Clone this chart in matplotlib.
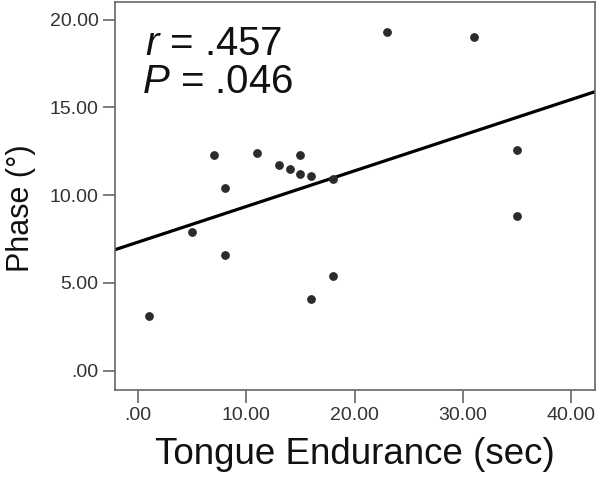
import matplotlib.pyplot as plt
import numpy as np

plt.rcParams['font.family'] = ['Liberation Sans', 'DejaVu Sans']
plt.rcParams['mathtext.fontset'] = 'custom'
plt.rcParams['mathtext.rm'] = 'Liberation Sans'
plt.rcParams['mathtext.it'] = 'Liberation Sans:italic'

# Data
endurance = [1, 5, 8, 7, 8, 11, 13, 14, 15, 15, 16, 18, 16, 18, 23, 31, 35, 35]
phase = [3.1, 7.9, 6.6, 12.3, 10.4, 12.4, 11.7, 11.5, 12.3, 11.2, 11.1, 10.9,
         4.1, 5.4, 19.3, 19.0, 12.6, 8.8]
x_ticks = [0, 10, 20, 30, 40]
x_tick_labels = ['.00', '10.00', '20.00', '30.00', '40.00']
y_ticks = [0, 5, 10, 15, 20]
y_tick_labels = ['.00', '5.00', '10.00', '15.00', '20.00']

fig = plt.figure(figsize=(6, 4.8), dpi=100)
ax = fig.add_axes([0.192, 0.1875, 0.8, 0.808])

ax.scatter(endurance, phase, s=28, color='#2b2b2b', zorder=3)

# least squares fit line
xlim = (-2.1, 42.2)
slope, intercept = np.polyfit(endurance, phase, 1)
xs = np.array(xlim)
ax.plot(xs, slope * xs + intercept, color='black', lw=2.3)

ax.set_xlim(*xlim)
ax.set_ylim(-1.1, 21.0)
ax.set_xticks(x_ticks)
ax.set_xticklabels(x_tick_labels)
ax.set_yticks(y_ticks)
ax.set_yticklabels(y_tick_labels)

for s in ax.spines.values():
    s.set_color('#666666')
    s.set_linewidth(1.2)
ax.tick_params(axis='both', length=9, width=1.2, color='#666666',
               labelsize=14, labelcolor='#333333', pad=3)

ax.set_xlabel('Tongue Endurance (sec)', fontsize=26.5, color='#111111')
ax.set_ylabel('Phase (°)', fontsize=22, color='#111111')
ax.xaxis.set_label_coords(0.5, -0.12)
ax.yaxis.set_label_coords(-0.165, 0.47)

ax.text(0.062, 0.863, r'$\it{r}$ = .457', transform=ax.transAxes,
        fontsize=29, color='#111111', va='baseline')
ax.text(0.056, 0.765, r'$\it{P}$ = .046', transform=ax.transAxes,
        fontsize=29, color='#111111', va='baseline')

fig.savefig('out.png', dpi=100)
